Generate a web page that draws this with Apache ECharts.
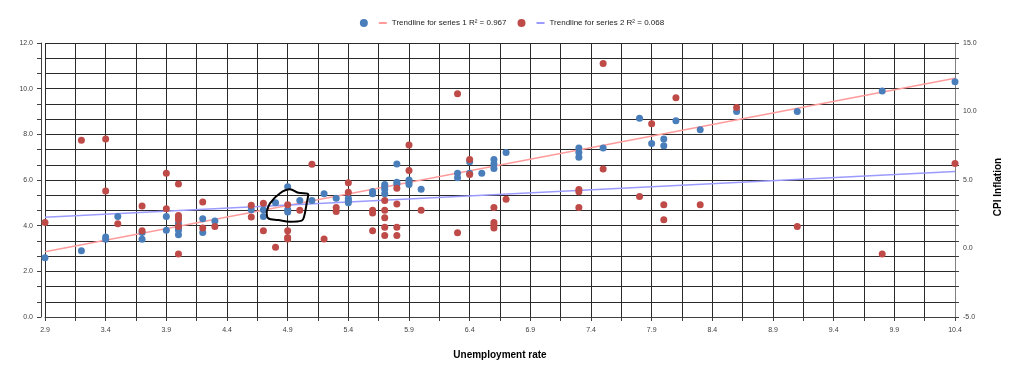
<!DOCTYPE html>
<html>
<head>
<meta charset="utf-8">
<script src="https://cdn.jsdelivr.net/npm/echarts@6/dist/echarts.min.js"></script>
<style>
html,body{margin:0;padding:0;background:#fff;}
#chart{width:1024px;height:380px;}
</style>
</head>
<body>
<div id="chart"></div>
<script>
// Series 1 (left axis): [unemployment rate, value]
var series1Points = [
  [2.9,2.6],[3.2,2.9],[3.4,3.5],[3.4,3.4],[3.5,4.4],[3.7,3.7],[3.7,3.4],[3.9,4.4],[3.9,3.8],
  [4.0,4.1],[4.0,3.9],[4.0,3.8],[4.0,3.6],[4.2,4.3],[4.2,3.7],[4.3,4.2],[4.6,4.7],[4.7,4.7],[4.7,4.4],
  [4.8,5.0],[4.9,5.7],[4.9,4.7],[4.9,4.6],[5.0,5.1],[5.1,5.1],[5.2,5.4],[5.3,5.2],[5.4,5.2],[5.4,5.1],[5.4,5.0],
  [5.6,5.5],[5.6,5.4],[5.7,5.8],[5.7,5.7],[5.7,5.6],[5.7,5.4],[5.8,6.7],[5.8,5.9],[5.8,5.8],
  [5.9,6.0],[5.9,5.9],[5.9,5.8],[6.0,5.6],[6.3,6.3],[6.3,6.1],[6.4,6.8],[6.4,6.3],[6.5,6.3],
  [6.6,6.9],[6.6,6.7],[6.6,6.5],[6.7,7.2],[7.3,7.4],[7.3,7.2],[7.3,7.0],[7.5,7.4],[7.8,8.7],[7.9,7.6],
  [8.0,7.8],[8.0,7.5],[8.1,8.6],[8.3,8.2],[8.6,9.0],[9.1,9.0],[9.8,9.9],[10.4,10.3]
];
// Series 2 (right axis, CPI inflation): [unemployment rate, value]
var series2Points = [
  [2.9,1.9],[3.2,7.9],[3.4,8.0],[3.4,4.2],[3.5,1.8],[3.7,3.1],[3.7,1.3],[3.9,5.5],[3.9,2.9],
  [4.0,4.7],[4.0,2.4],[4.0,2.25],[4.0,2.1],[4.0,1.6],[4.0,-0.4],[4.2,3.4],[4.2,1.5],[4.3,1.6],
  [4.6,3.15],[4.6,2.3],[4.7,3.3],[4.7,1.3],[4.8,0.1],[4.9,3.2],[4.9,1.3],[4.9,0.8],[4.9,0.7],
  [5.0,2.8],[5.1,6.15],[5.2,0.7],[5.3,3.0],[5.3,2.7],[5.4,4.8],[5.4,4.1],[5.6,2.8],[5.6,2.6],[5.6,1.3],
  [5.7,3.5],[5.7,2.8],[5.7,2.25],[5.7,1.55],[5.7,0.95],[5.8,4.4],[5.8,3.25],[5.8,1.55],[5.8,0.95],
  [5.9,7.55],[5.9,5.7],[6.0,2.8],[6.3,11.3],[6.3,1.15],[6.4,6.5],[6.4,5.4],
  [6.6,3.0],[6.6,1.9],[6.6,1.7],[6.6,1.5],[6.7,3.6],[7.3,4.3],[7.3,4.15],[7.3,3.0],
  [7.5,13.5],[7.5,5.8],[7.8,3.8],[7.9,9.1],[8.0,3.2],[8.0,2.1],[8.1,11.0],[8.3,3.2],
  [8.6,10.3],[9.1,1.6],[9.8,-0.4],[10.4,6.2]
];
var seriesNames = ['Series 1', 'Series 2'];
var trendNames = ['Trendline for series 1 R\u00b2 = 0.967', 'Trendline for series 2 R\u00b2 = 0.068'];
var xTitle = 'Unemployment rate';
var rightTitle = 'CPI Inflation';
// hand-drawn annotation loop (data units, left axis)
var annotationLoop = [
  [4.727,4.61],[4.754,4.98],[4.837,5.42],[4.919,5.59],[4.988,5.44],[5.070,5.37],[5.057,4.98],
  [5.035,4.39],[5.016,4.22],[4.919,4.17],[4.823,4.25],[4.740,4.32],[4.727,4.61]
];

function trend(points) {
  var n = points.length, sx = 0, sy = 0, sxx = 0, sxy = 0, mn = Infinity, mx = -Infinity;
  points.forEach(function (p) { sx += p[0]; sy += p[1]; sxx += p[0]*p[0]; sxy += p[0]*p[1]; mn = Math.min(mn, p[0]); mx = Math.max(mx, p[0]); });
  var b = (n*sxy - sx*sy) / (n*sxx - sx*sx);
  var a = (sy - b*sx) / n;
  return [[mn, a + b*mn], [mx, a + b*mx]];
}

var FONT = 'Liberation Sans, Arial, sans-serif';
var GRID = '#2a2a2a';
var fmt = function (v) { return (+v).toFixed(1); };

var chart = echarts.init(document.getElementById('chart'), null, {renderer: 'canvas'});
chart.setOption({
  animation: false,
  textStyle: {fontFamily: FONT},
  legend: {
    left: 'center', top: 14, itemWidth: 8, itemHeight: 8, itemGap: 11,
    textStyle: {fontSize: 8, color: '#222', fontFamily: FONT},
    formatter: function (name) { return name.indexOf('Trendline') === 0 ? name : ''; },
    data: [
      {name: seriesNames[0], icon: 'circle'},
      {name: trendNames[0], icon: 'path://M0,0H8V2H0Z', itemStyle: {color: '#ff9b9b', borderWidth: 0}},
      {name: seriesNames[1], icon: 'circle'},
      {name: trendNames[1], icon: 'path://M0,0H8V2H0Z', itemStyle: {color: '#9b9bff', borderWidth: 0}}
    ]
  },
  grid: {left: 45, right: 69, top: 43, bottom: 63},
  xAxis: {
    type: 'value', min: 2.9, max: 10.4, interval: 0.5,
    name: xTitle, nameLocation: 'middle', nameGap: 33,
    nameTextStyle: {fontWeight: 'bold', fontSize: 10, color: '#000', fontFamily: FONT},
    axisLine: {onZero: false, lineStyle: {color: '#404040'}},
    axisTick: {length: 4, lineStyle: {color: '#404040'}},
    minorTick: {show: true, splitNumber: 2, length: 4, lineStyle: {color: '#404040'}},
    splitLine: {show: true, lineStyle: {color: GRID, width: 1}},
    minorSplitLine: {show: true, lineStyle: {color: GRID, width: 1}},
    axisLabel: {formatter: fmt, fontSize: 7, color: '#404040', margin: 10}
  },
  yAxis: [
    {
      type: 'value', position: 'left', min: 0, max: 12, interval: 2, offset: 4,
      axisLine: {show: true, lineStyle: {color: '#404040'}},
      axisTick: {show: true, length: 4, lineStyle: {color: '#404040'}},
      minorTick: {show: true, splitNumber: 3, length: 4, lineStyle: {color: '#404040'}},
      splitLine: {show: true, lineStyle: {color: GRID, width: 1}},
      minorSplitLine: {show: true, lineStyle: {color: GRID, width: 1}},
      axisLabel: {formatter: fmt, fontSize: 7, color: '#404040', margin: 8}
    },
    {
      type: 'value', position: 'right', min: -5, max: 15, interval: 5,
      name: rightTitle, nameLocation: 'middle', nameGap: 38,
      nameTextStyle: {fontWeight: 'bold', fontSize: 10, color: '#000', fontFamily: FONT, padding: [0, 14, 0, 0]},
      axisLine: {show: true, lineStyle: {color: '#808080'}},
      axisTick: {show: false},
      splitLine: {show: false},
      axisLabel: {formatter: fmt, fontSize: 7, color: '#404040', margin: 8}
    },
    {
      type: 'value', position: 'right', min: 0, max: 12, interval: 2,
      axisLine: {show: false}, axisLabel: {show: false},
      axisTick: {show: true, length: 4, lineStyle: {color: '#404040'}},
      minorTick: {show: true, splitNumber: 3, length: 4, lineStyle: {color: '#404040'}},
      splitLine: {show: false}, minorSplitLine: {show: false}
    }
  ],
  series: [
    {
      name: trendNames[0], type: 'line', yAxisIndex: 0, data: trend(series1Points),
      symbol: 'none', z: 2, silent: true,
      lineStyle: {color: '#ff9b9b', width: 1.5}, itemStyle: {color: '#ff9b9b'}
    },
    {
      name: trendNames[1], type: 'line', yAxisIndex: 1, data: trend(series2Points),
      symbol: 'none', z: 2, silent: true,
      lineStyle: {color: '#9b9bff', width: 1.5}, itemStyle: {color: '#9b9bff'}
    },
    {
      name: seriesNames[0], type: 'scatter', yAxisIndex: 0, data: series1Points,
      symbolSize: 7, z: 3, itemStyle: {color: '#4a7ebb', opacity: 1}
    },
    {
      name: seriesNames[1], type: 'scatter', yAxisIndex: 1, data: series2Points,
      symbolSize: 7, z: 4, itemStyle: {color: '#be4b48', opacity: 1}
    },
    {
      name: 'annotation', type: 'line', yAxisIndex: 0, data: annotationLoop,
      smooth: 0.35, symbol: 'none', z: 6, silent: true,
      lineStyle: {color: '#000', width: 2}
    }
  ]
});
</script>
</body>
</html>
